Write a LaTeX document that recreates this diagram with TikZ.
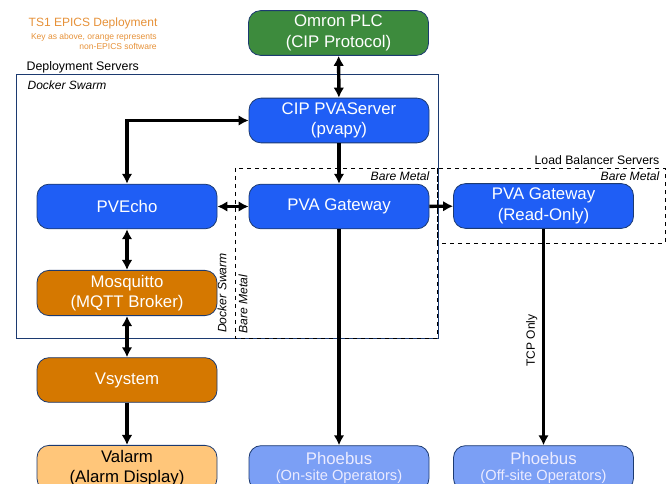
\documentclass[tikz,border=0pt]{standalone}
\usepackage{fontspec}
\setmainfont{Liberation Sans}
\usetikzlibrary{arrows.meta,positioning}

\definecolor{epicsblue}{HTML}{1F5EF5}
\definecolor{lightblue}{HTML}{7B9FF5}
\definecolor{plcgreen}{HTML}{3D8B3D}
\definecolor{sworange}{HTML}{D57800}
\definecolor{lightorange}{HTML}{FFC67A}
\definecolor{titleorange}{HTML}{E69138}
\definecolor{edgenavy}{HTML}{1C3A70}

\begin{document}
\begin{tikzpicture}[
  x=0.75pt, y=-0.75pt,
  box/.style={rectangle, rounded corners=9pt, draw=edgenavy, line width=0.6pt,
    minimum width=135pt, minimum height=33.5pt, align=center, text=white,
    font=\fontsize{12.6}{15.5}\selectfont},
  epics/.style={box, fill=epicsblue},
  plc/.style={box, fill=plcgreen},
  nonepics/.style={box, fill=sworange},
  display/.style={box, fill=lightorange, text=black},
  client/.style={box, fill=lightblue, text=white!92!blue},
  swarm/.style={draw=edgenavy, line width=0.7pt},
  baremetal/.style={draw=black, dashed, line width=0.6pt},
  tag/.style={font=\fontsize{9.1}{10}\selectfont\itshape, inner sep=1pt},
  arrow/.style={-{Latex[length=7.5pt, width=8pt]}, line width=2.6pt},
  dblarrow/.style={{Latex[length=7.5pt, width=8pt]}-{Latex[length=7.5pt, width=8pt]}, line width=2.6pt}
]
\clip (0,0) rectangle (667,484);

% Key
\node[text=titleorange, font=\fontsize{9}{11}\selectfont, anchor=west] (title) at (24,23) {TS1 EPICS Deployment};
\node[text=titleorange, font=\fontsize{6.4}{7.2}\selectfont, align=right, anchor=north east, inner sep=0pt] (key) at (157,33)
  {Key as above, orange represents\\non-EPICS software};

% Server groups
\draw[swarm] (16,74) rectangle (438,338);
\node[font=\fontsize{9.3}{10}\selectfont, anchor=south west, inner sep=1pt] (deploy_lbl) at (25,75) {Deployment Servers};
\node[tag, font=\fontsize{9}{10}\selectfont\itshape, anchor=north west] (swarm_lbl) at (26,79) {Docker Swarm};
\draw[baremetal] (235,168) rectangle (437,338);
\node[tag, anchor=north east] (bare_lbl) at (431,170) {Bare Metal};
\node[tag, rotate=90] (swarm_side) at (222,293) {Docker Swarm};
\node[tag, rotate=90] (bare_side) at (243,304) {Bare Metal};
\draw[baremetal] (437,168) rectangle (665,243);
\node[font=\fontsize{9.2}{10}\selectfont, anchor=south east, inner sep=1pt] (lb_lbl) at (661,166) {Load Balancer Servers};
\node[tag, anchor=north east] (lb_bare) at (661,170) {Bare Metal};

% Services
\node[plc] (omron) at (338.5,33) {Omron PLC\\(CIP Protocol)};
\node[epics] (cip) at (339,120.5) {CIP PVAServer\\(pvapy)};
\node[epics] (pvecho) at (127,206.5) {PVEcho};
\node[epics] (gw) at (339,206.5) {PVA Gateway};
\node[epics] (gw_ro) at (543.5,206) {PVA Gateway\\(Read-Only)};
\node[nonepics] (mosq) at (127,293) {Mosquitto\\(MQTT Broker)};
\node[nonepics] (vsys) at (127,380) {Vsystem};
\node[display] (valarm) at (127,468) {Valarm\\(Alarm Display)};
\node[client] (phoebus_on) at (339,468) {Phoebus\\[-3pt]{\fontsize{11}{12}\selectfont(On-site Operators)}};
\node[client] (phoebus_off) at (543.5,468) {Phoebus\\[-3pt]{\fontsize{11}{12}\selectfont(Off-site Operators)}};

% Connections
\draw[dblarrow] (omron) -- (cip);
\draw[arrow] (cip) -- (gw);
\draw[dblarrow] (cip.west) -| (pvecho.north);
\draw[dblarrow] (pvecho) -- (gw);
\draw[arrow] (gw) -- (gw_ro);
\draw[dblarrow] (pvecho) -- (mosq);
\draw[dblarrow] (mosq) -- (vsys);
\draw[arrow] (vsys) -- (valarm);
\draw[arrow] (gw) -- (phoebus_on);
\draw[arrow] (gw_ro) -- (phoebus_off)
  node[pos=0.54, rotate=90, above=4pt, font=\fontsize{9}{10}\selectfont] {TCP Only};

\end{tikzpicture}
\end{document}
